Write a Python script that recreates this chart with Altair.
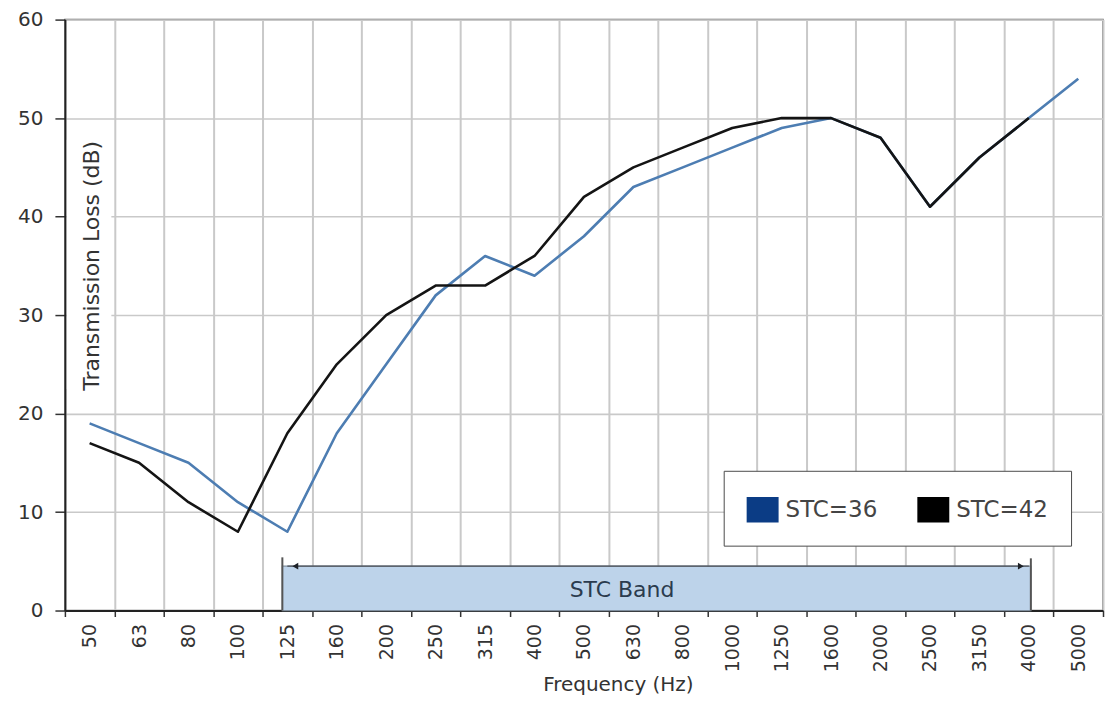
import altair as alt
import pandas as pd

# ---------------- data ----------------
freqs = ["50", "63", "80", "100", "125", "160", "200", "250", "315", "400", "500",
         "630", "800", "1000", "1250", "1600", "2000", "2500", "3150", "4000", "5000"]
stc36 = [19, 17, 15, 11, 8, 18, 25, 32, 36, 34, 38, 43, 45, 47, 49, 50, 48, 41, 46, 50, 54]
stc42 = [17, 15, 11, 8, 18, 25, 30, 33, 33, 36, 42, 45, 47, 49, 50, 50, 48, 41, 46, 50, None]
series_names = ["STC=36", "STC=42"]
line_colors = ["#4d7db2", "#141414"]
legend_colors = ["#0b3c85", "#000000"]
y_ticks = [0, 10, 20, 30, 40, 50, 60]
band_label = "STC Band"
band_from, band_to = "125", "4000"
x_title = "Frequency (Hz)"
y_title = "Transmission Loss (dB)"

rows = []
for name, vals in zip(series_names, [stc36, stc42]):
    for f, v in zip(freqs, vals):
        if v is not None:
            rows.append({"series": name, "freq": f, "tl": v})
df = pd.DataFrame(rows)

# ---------------- layout / style ----------------
W, H = 1040, 592
FONT = "DejaVu Sans"
TXT = "#333333"
GRID = "#c9c9c9"

idx_scale = alt.Scale(domain=[-0.5, len(freqs) - 0.5], nice=False, zero=False)
y_scale = alt.Scale(domain=[0, 60], nice=False, zero=False)
y_axis = alt.Axis(
    title=None, values=y_ticks, grid=True, gridColor=GRID, gridWidth=1.6,
    tickSize=10, tickColor="#333333", tickWidth=1.5, domainColor="#222222",
    domainWidth=2, labelPadding=12, labelFontSize=20, labelColor=TXT,
)


def Y(field):
    return alt.Y(field, scale=y_scale, axis=y_axis)


def XI(field):
    return alt.X(field, scale=idx_scale, axis=None)


i_from, i_to = freqs.index(band_from), freqs.index(band_to)

# STC band
band_df = pd.DataFrame({"x": [i_from], "x2": [i_to], "y": [0], "y2": [4.5]})
band_rect = alt.Chart(band_df).mark_rect(
    fill="#bdd3ea", stroke="#7f8e9e", strokeWidth=1.2, xOffset=-5, x2Offset=2
).encode(x=XI("x:Q"), x2="x2:Q", y=Y("y:Q"), y2="y2:Q")

ends_df = pd.DataFrame({"x": [i_from, i_to], "y": [0, 0], "y2": [5.4, 5.3]})
left_end = alt.Chart(ends_df.iloc[[0]]).mark_rule(color="#555555", strokeWidth=2, xOffset=-5).encode(
    x=XI("x:Q"), y=Y("y:Q"), y2="y2:Q"
)
right_end = alt.Chart(ends_df.iloc[[1]]).mark_rule(color="#555555", strokeWidth=2, xOffset=2).encode(
    x=XI("x:Q"), y=Y("y:Q"), y2="y2:Q"
)

arrow_df = pd.DataFrame({"x": [i_from], "x2": [i_to], "y": [4.5]})
arrow_line = alt.Chart(arrow_df).mark_rule(color="#4a4f57", strokeWidth=1.3).encode(
    x=XI("x:Q"), x2="x2:Q", y=Y("y:Q")
)
head_l = alt.Chart(pd.DataFrame({"x": [i_from], "y": [4.5]})).mark_point(
    shape="triangle-left", filled=True, size=45, color="#1e2228", opacity=1, xOffset=8
).encode(x=XI("x:Q"), y=Y("y:Q"))
head_r = alt.Chart(pd.DataFrame({"x": [i_to], "y": [4.5]})).mark_point(
    shape="triangle-right", filled=True, size=45, color="#1e2228", opacity=1, xOffset=-8
).encode(x=XI("x:Q"), y=Y("y:Q"))

band_text = alt.Chart(pd.DataFrame({"x": [10.77], "y": [2.1], "t": [band_label]})).mark_text(
    font=FONT, fontSize=22, color="#2b3b4e", align="center", baseline="middle"
).encode(x=XI("x:Q"), y=Y("y:Q"), text="t:N")

# y-axis title drawn inside the plot, on a white patch
title_bg = alt.Chart(pd.DataFrame({"x": [-0.46], "x2": [0.44], "y": [22.5], "y2": [47.8]})).mark_rect(
    fill="white"
).encode(x=XI("x:Q"), x2="x2:Q", y=Y("y:Q"), y2="y2:Q")
title_txt = alt.Chart(pd.DataFrame({"x": [0.04], "y": [35.0], "t": [y_title]})).mark_text(
    font=FONT, fontSize=22, color=TXT, angle=270, align="center", baseline="middle"
).encode(x=XI("x:Q"), y=Y("y:Q"), text="t:N")

# data lines
lines = alt.Chart(df).mark_line(strokeWidth=2.6, strokeJoin="round").encode(
    x=alt.X(
        "freq:N",
        sort=freqs,
        scale=alt.Scale(type="band", domain=freqs, paddingInner=0, paddingOuter=0),
        axis=alt.Axis(
            title=x_title, labelAngle=270, tickBand="extent", grid=True,
            gridColor=GRID, gridWidth=2, ticks=True, tickSize=6, tickColor="#333333",
            tickWidth=1.5, domainColor="#222222", domainWidth=2, labelPadding=7,
            labelFontSize=19, labelColor=TXT, titleFontSize=20, titleColor=TXT,
            titleFontWeight="normal", titleX=554, titleY=74, titleAlign="center",
            titleBaseline="middle",
        ),
    ),
    y=Y("tl:Q"),
    stroke=alt.Stroke("series:N", scale=alt.Scale(range=line_colors), legend=None),
)

# legend (real legend, carried by an invisible layer)
legend_layer = alt.Chart(pd.DataFrame({"series": series_names})).mark_square(opacity=0).encode(
    fill=alt.Fill(
        "series:N",
        scale=alt.Scale(domain=series_names, range=legend_colors),
        legend=alt.Legend(
            title=None, orient="none", legendX=660, legendY=452, direction="horizontal",
            symbolType="M-1,-0.8H1V0.8H-1Z", symbolSize=1024, symbolOpacity=1,
            symbolStrokeWidth=0, labelFont=FONT, labelFontSize=23, labelColor="#444444",
            labelOffset=7, columnPadding=40, padding=23, fillColor="white",
            strokeColor="#4a4a4a",
        ),
    ),
)

chart = alt.layer(
    title_bg, title_txt, band_rect, left_end, right_end, arrow_line, head_l, head_r,
    band_text, lines, legend_layer,
).resolve_scale(x="independent").properties(
    width=W, height=H,
    autosize=alt.AutoSizeParams(type="none"),
    padding={"left": 57, "top": 11, "right": 2, "bottom": 85},
).configure_view(
    stroke="#666666", strokeWidth=1.5
).configure_axis(
    labelFont=FONT, titleFont=FONT
)

chart.save("out.html", embed_options={"renderer": "svg", "actions": False})
